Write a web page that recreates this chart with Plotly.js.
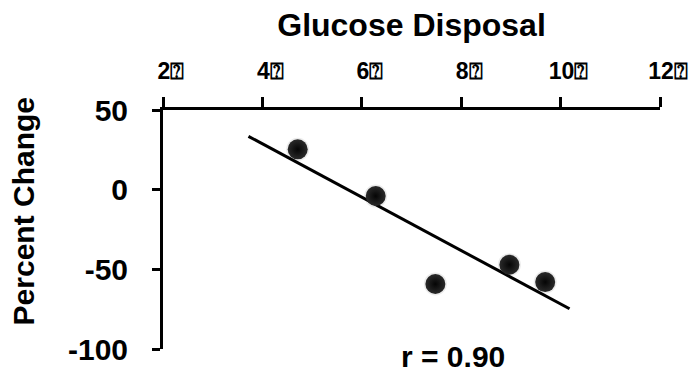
<!DOCTYPE html>
<html>
<head>
<meta charset="utf-8">
<script src="https://cdn.plot.ly/plotly-3.0.1.min.js"></script>
<style>
  html, body { margin: 0; padding: 0; background: #fff; }
  #chart { width: 696px; height: 373px; }
</style>
</head>
<body>
<div id="chart"></div>
<script>
// Glucose disposal vs. percent change, one point per subject
const glucoseDisposal = [4.71, 6.28, 7.48, 8.97, 9.69];
const percentChange   = [25.3, -4.0, -59.2, -47.1, -58.0];

// Axis ticks (top x axis, left y axis)
const xTickVals = [2, 4, 6, 8, 10, 12];
const xTickText = ['2\u2370', '4\u2370', '6\u2370', '8\u2370', '10\u2370', '12\u2370'];
const yTickVals = [50, 0, -50, -100];
const yTickText = ['50', '0', '-50', '-100'];

// Extent of the drawn regression line along x
const fitRange = [3.72, 10.18];

// Least-squares fit through the points
function linearFit(xs, ys) {
  const n = xs.length;
  const mx = xs.reduce((a, b) => a + b, 0) / n;
  const my = ys.reduce((a, b) => a + b, 0) / n;
  let sxy = 0, sxx = 0, syy = 0;
  for (let i = 0; i < n; i++) {
    sxy += (xs[i] - mx) * (ys[i] - my);
    sxx += (xs[i] - mx) ** 2;
    syy += (ys[i] - my) ** 2;
  }
  const slope = sxy / sxx;
  return { slope, intercept: my - slope * mx, r: sxy / Math.sqrt(sxx * syy) };
}

const fit = linearFit(glucoseDisposal, percentChange);
const fitX = fitRange;
const fitY = fitRange.map(x => fit.intercept + fit.slope * x);

const FONT = 'Liberation Sans, Arial, sans-serif';

const traces = [
  {
    x: fitX, y: fitY, mode: 'lines', type: 'scatter',
    line: { color: '#000', width: 3 }, hoverinfo: 'skip'
  },
  {
    // soft shadow under each ball
    x: glucoseDisposal, y: percentChange, mode: 'markers', type: 'scatter',
    marker: { size: 23, color: 'rgba(0,0,0,0.08)', line: { width: 0 } },
    hoverinfo: 'skip'
  },
  {
    x: glucoseDisposal, y: percentChange, mode: 'markers', type: 'scatter',
    marker: {
      size: 20, color: '#2a2a2a',
      gradient: { type: 'radial', color: '#050505' },
      line: { width: 0 }
    }
  }
];

const layout = {
  width: 696, height: 373,
  margin: { l: 163, r: 36, t: 110, b: 24, pad: 0 },
  paper_bgcolor: '#fff', plot_bgcolor: '#fff',
  showlegend: false,
  font: { family: FONT, color: '#000' },
  xaxis: {
    side: 'top',
    range: [2, 12],
    tickvals: xTickVals, ticktext: xTickText,
    tickfont: { family: FONT, size: 23, weight: 'bold', color: '#000' },
    ticks: 'outside', ticklen: 10, tickwidth: 3, tickcolor: '#000',
    ticklabelshift: 8, ticklabelstandoff: 9,
    showline: true, linewidth: 3, linecolor: '#000',
    showgrid: false, zeroline: false,
    title: {
      text: 'Glucose Disposal',
      font: { family: FONT, size: 32, weight: 'bold', color: '#000' },
      standoff: 12
    }
  },
  yaxis: {
    range: [-100, 50],
    tickvals: yTickVals, ticktext: yTickText,
    tickfont: { family: FONT, size: 30, weight: 'bold', color: '#000' },
    ticks: 'outside', ticklen: 8, tickwidth: 3, tickcolor: '#000',
    ticklabelstandoff: 18,
    showline: true, linewidth: 3, linecolor: '#000',
    showgrid: false, zeroline: false
  },
  annotations: [
    {
      text: 'Percent Change', textangle: -90,
      xref: 'paper', yref: 'paper',
      x: -0.28, y: 0.575, xanchor: 'center', yanchor: 'middle',
      showarrow: false,
      font: { family: FONT, size: 30, weight: 'bold', color: '#000' }
    },
    {
      text: 'r = ' + Math.abs(fit.r).toFixed(2),
      xref: 'paper', yref: 'paper',
      x: 0.5825, y: -0.03, xanchor: 'center', yanchor: 'middle',
      showarrow: false,
      font: { family: FONT, size: 30, weight: 'bold', color: '#000' }
    }
  ]
};

Plotly.newPlot('chart', traces, layout, { staticPlot: true, displayModeBar: false });
</script>
</body>
</html>
